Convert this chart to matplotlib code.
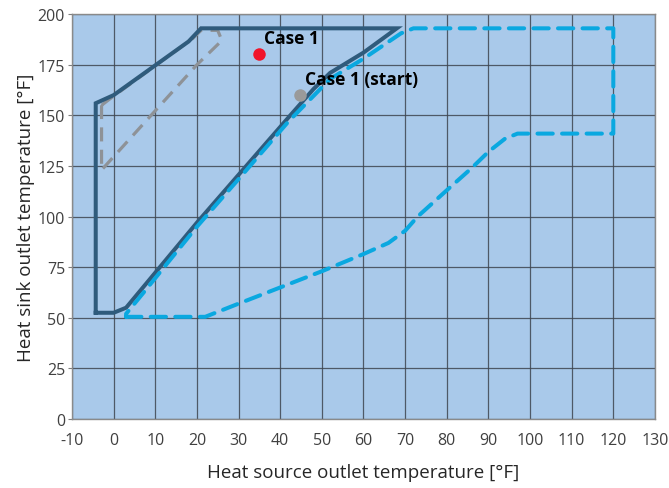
"""
Operating envelope chart: heat source vs heat sink outlet temperature.
"""

import matplotlib
matplotlib.use('Agg')
import matplotlib.pyplot as plt

# Solid envelope (dark blue)
solid_x = [-4.3, 0, 3, 20, 42, 48, 52, 60, 68, 21, 18, 0, -4.3, -4.3]
solid_y = [52.5, 52.5, 55, 97, 149, 163, 171, 181, 193, 193, 186.5, 160, 156, 52.5]

# Gray dashed envelope
gray_x = [-2.9, -1, 19, 21, 25, 26, 20, -2.9, -2.9]
gray_y = [155, 158, 188, 192, 192, 187, 175, 123, 155]

# Cyan dashed envelope
cyan_x = [3, 22, 30, 40, 50, 60, 66, 70, 73, 80, 86, 90, 94, 97, 120, 120, 72, 69,
          60, 52, 42, 30, 20, 7, 3, 3]
cyan_y = [50.5, 50.5, 57, 65, 73, 81.5, 87, 93, 100, 113, 124, 132, 138.5, 141, 141,
          193, 193, 190.5, 178, 168, 147, 118.5, 95, 62, 52, 50.5]

# Marked points
case_x = [34.8, 44.8]
case_y = [180.2, 160.2]
case_labels = ['Case 1', 'Case 1 (start)']
case_colors = ['#F0142A', '#9A9A9A']
label_x = [36.2, 46.0]
label_y = [188, 168]

xticks = list(range(-10, 131, 10))
yticks = list(range(0, 201, 25))

plt.rcParams['font.family'] = ['Open Sans', 'DejaVu Sans']
plt.rcParams['axes.unicode_minus'] = False

fig = plt.figure(figsize=(6.69, 4.89), dpi=100)
ax = fig.add_axes([0.1076, 0.141, 0.8714, 0.828])
ax.set_facecolor('#A9C9EA')

ax.plot(gray_x, gray_y, color='#8E9297', linewidth=2.3, dashes=(4.4, 2.6),
        dash_capstyle='butt', zorder=3)
ax.plot(solid_x, solid_y, color='#2F5B7C', linewidth=2.9, solid_joinstyle='miter',
        zorder=4)
ax.plot(cyan_x, cyan_y, color='#0AA8E0', linewidth=2.9, dashes=(3.8, 2.3),
        dash_capstyle='round', zorder=5)

for x, y, c in zip(case_x, case_y, case_colors):
    ax.plot(x, y, 'o', color=c, markersize=9, markeredgewidth=0, zorder=6)
for x, y, t in zip(label_x, label_y, case_labels):
    ax.text(x, y, t, fontsize=12.5, fontweight='bold', color='black',
            ha='left', va='center', zorder=7)

ax.set_xlim(-10, 130)
ax.set_ylim(0, 200)
ax.set_xticks(xticks)
ax.set_yticks(yticks)
ax.tick_params(labelsize=11.5, length=3, color='#7F7F7F', colors='#404040',
               pad=2)
ax.tick_params(axis='x', length=0, pad=9)
ax.grid(True, color='#3E4650', linewidth=0.9, alpha=0.85)
ax.set_axisbelow(True)
for s in ax.spines.values():
    s.set_color('#8A8A8A')
    s.set_linewidth(1.0)

ax.set_xlabel('Heat source outlet temperature [°F]', fontsize=13.5,
              color='#262626', labelpad=11)
ax.set_ylabel('Heat sink outlet temperature [°F]', fontsize=13.5,
              color='#262626', labelpad=2)

fig.savefig('out.png', dpi=100)
